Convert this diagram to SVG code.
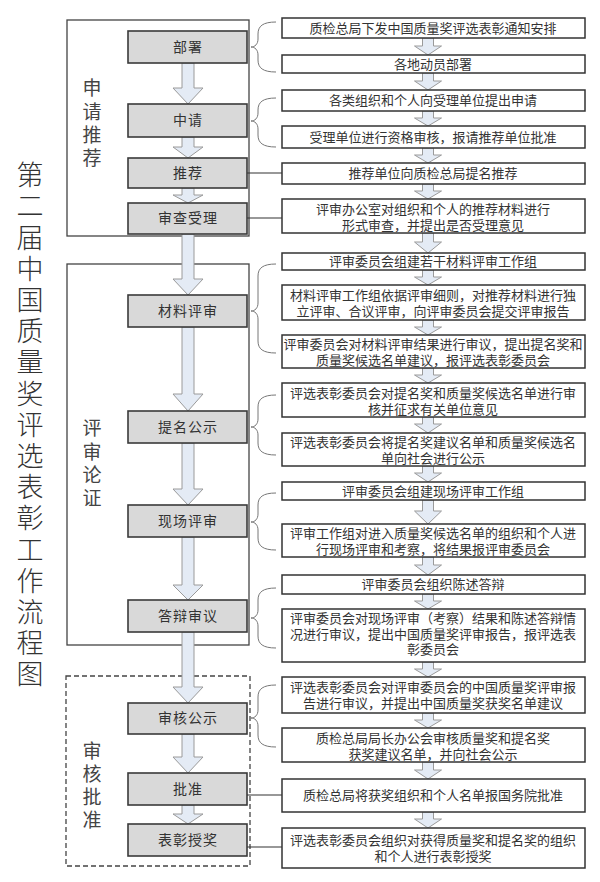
<svg xmlns="http://www.w3.org/2000/svg" width="600" height="882" viewBox="0 0 600 882">
<style>
.grp{fill:#fff;stroke:#444;stroke-width:1.3}
.dash{stroke-dasharray:5,3}
.lb{fill:#d9d9d9;stroke:#3a3a3a;stroke-width:1.6}
.rb{fill:#fff;stroke:#333;stroke-width:1.5}
.t{font-family:"Noto Sans CJK SC","Noto Sans",sans-serif;fill:#333;text-anchor:middle}
.v{font-family:"Noto Sans CJK SC","Noto Sans",sans-serif;writing-mode:vertical-rl;text-anchor:start}
.lt{font-size:14px;letter-spacing:1px}
.rt{font-size:13px}
.gl{font-size:19px;fill:#444}
.tt{font-size:27px;fill:#333;letter-spacing:4.2px;font-weight:300}
.arr{fill:#e4ebf5;stroke:#9a9a9a;stroke-width:1}
.br{fill:none;stroke:#777;stroke-width:1}
.ln{fill:none;stroke:#333;stroke-width:1.2}
</style>
<rect width="600" height="882" fill="#fff"/>
<g id="title">
<text class="v tt" x="30" y="161.5">第二届中国质量奖评选表彰工作流程图</text>
</g>
<g id="group-apply">
<rect class="grp" x="67" y="20" width="182" height="216"/>
<text class="v gl" x="92" y="78.5" style="letter-spacing:4.3px">申请推荐</text>
</g>
<g id="group-review">
<rect class="grp" x="67" y="264" width="182" height="381"/>
<text class="v gl" x="92" y="418.5" style="letter-spacing:4.3px">评审论证</text>
</g>
<g id="group-approve">
<rect class="grp dash" x="66" y="676" width="184" height="190"/>
<text class="v gl" x="92" y="741.5" style="letter-spacing:4px">审核批准</text>
</g>
<g id="connectors">
<polygon class="arr" points="182,63 194,63 194,88 203,88 188,104 173,88 182,88"/>
<polygon class="arr" points="182,137 194,137 194,147 203,147 188,158 173,147 182,147"/>
<polygon class="arr" points="182,188 194,188 194,195 203,195 188,203 173,195 182,195"/>
<polygon class="arr" points="182,234 194,234 194,279 203,279 188,295 173,279 182,279"/>
<polygon class="arr" points="182,327 194,327 194,394 203,394 188,411 173,394 182,394"/>
<polygon class="arr" points="182,443 194,443 194,489 203,489 188,505 173,489 182,489"/>
<polygon class="arr" points="182,537 194,537 194,585 203,585 188,600 173,585 182,585"/>
<polygon class="arr" points="182,632 194,632 194,687 203,687 188,703 173,687 182,687"/>
<polygon class="arr" points="182,734 194,734 194,757 203,757 188,773 173,757 182,757"/>
<polygon class="arr" points="182,805 194,805 194,814 203,814 188,824 173,814 182,814"/>
<polygon class="arr" points="422.5,38 433.5,38 433.5,46 441.5,46 428,55 414.5,46 422.5,46"/>
<polygon class="arr" points="422.5,73 433.5,73 433.5,81 441.5,81 428,90 414.5,81 422.5,81"/>
<polygon class="arr" points="422.5,111 433.5,111 433.5,118 441.5,118 428,126 414.5,118 422.5,118"/>
<polygon class="arr" points="422.5,148 433.5,148 433.5,155 441.5,155 428,163 414.5,155 422.5,155"/>
<polygon class="arr" points="422.5,184 433.5,184 433.5,191 441.5,191 428,199 414.5,191 422.5,191"/>
<polygon class="arr" points="422.5,233 433.5,233 433.5,242 441.5,242 428,253 414.5,242 422.5,242"/>
<polygon class="arr" points="422.5,270 433.5,270 433.5,277 441.5,277 428,285 414.5,277 422.5,277"/>
<polygon class="arr" points="422.5,320 433.5,320 433.5,327 441.5,327 428,335 414.5,327 422.5,327"/>
<polygon class="arr" points="422.5,368 433.5,368 433.5,375 441.5,375 428,383 414.5,375 422.5,375"/>
<polygon class="arr" points="422.5,417 433.5,417 433.5,424 441.5,424 428,433 414.5,424 422.5,424"/>
<polygon class="arr" points="422.5,466 433.5,466 433.5,473 441.5,473 428,482 414.5,473 422.5,473"/>
<polygon class="arr" points="422.5,500 433.5,500 433.5,511 441.5,511 428,524 414.5,511 422.5,511"/>
<polygon class="arr" points="422.5,557 433.5,557 433.5,565 441.5,565 428,575 414.5,565 422.5,565"/>
<polygon class="arr" points="422.5,594 433.5,594 433.5,601 441.5,601 428,609 414.5,601 422.5,601"/>
<polygon class="arr" points="422.5,662 433.5,662 433.5,669 441.5,669 428,677 414.5,669 422.5,669"/>
<polygon class="arr" points="422.5,713 433.5,713 433.5,720 441.5,720 428,728 414.5,720 422.5,720"/>
<polygon class="arr" points="422.5,762 433.5,762 433.5,770 441.5,770 428,779 414.5,770 422.5,770"/>
<polygon class="arr" points="422.5,812 433.5,812 433.5,819 441.5,819 428,828 414.5,819 422.5,819"/>
<path class="br" d="M276 22 C263 22 258 26 258 34 L258 39 C258 44 255 47 251 47 C255 47 258 50 258 55 L258 60 C258 68 263 72 276 72"/>
<path class="br" d="M276 98 C263 98 258 102 258 110 L258 113 C258 118 255 121 251 121 C255 121 258 124 258 129 L258 135 C258 143 263 147 276 147"/>
<path class="br" d="M276 264 C263 264 258 268 258 276 L258 303 C258 308 255 311 251 311 C255 311 258 314 258 319 L258 341 C258 349 263 353 276 353"/>
<path class="br" d="M276 395 C263 395 258 399 258 407 L258 419 C258 424 255 427 251 427 C255 427 258 430 258 435 L258 443 C258 451 263 455 276 455"/>
<path class="br" d="M276 493 C263 493 258 497 258 505 L258 514 C258 519 255 522 251 522 C255 522 258 525 258 530 L258 538 C258 546 263 550 276 550"/>
<path class="br" d="M276 588 C263 588 258 592 258 600 L258 610 C258 615 255 618 251 618 C255 618 258 621 258 626 L258 636 C258 644 263 648 276 648"/>
<path class="br" d="M276 685 C263 685 258 689 258 697 L258 710 C258 715 255 718 251 718 C255 718 258 721 258 726 L258 735 C258 743 263 747 276 747"/>
<line class="ln" x1="247" y1="173" x2="282" y2="173"/>
<line class="ln" x1="247" y1="218" x2="282" y2="218"/>
<line class="ln" x1="247" y1="795" x2="282" y2="795"/>
<line class="ln" x1="247" y1="847" x2="282" y2="847"/>
</g>
<g id="step-bushu"><rect class="lb" x="128" y="31" width="119" height="32"/><text class="t lt" x="188" y="52">部署</text></g>
<g id="step-shenqing"><rect class="lb" x="128" y="104" width="119" height="33"/><text class="t lt" x="188" y="125">中请</text></g>
<g id="step-tuijian"><rect class="lb" x="128" y="158" width="119" height="30"/><text class="t lt" x="188" y="178">推荐</text></g>
<g id="step-shencha"><rect class="lb" x="128" y="203" width="119" height="31"/><text class="t lt" x="188" y="223">审查受理</text></g>
<g id="step-cailiao"><rect class="lb" x="128" y="295" width="119" height="32"/><text class="t lt" x="188" y="316">材料评审</text></g>
<g id="step-timing"><rect class="lb" x="128" y="411" width="119" height="32"/><text class="t lt" x="188" y="432">提名公示</text></g>
<g id="step-xianchang"><rect class="lb" x="128" y="505" width="119" height="32"/><text class="t lt" x="188" y="526">现场评审</text></g>
<g id="step-dabian"><rect class="lb" x="128" y="600" width="119" height="32"/><text class="t lt" x="188" y="621">答辩审议</text></g>
<g id="step-shenhe"><rect class="lb" x="128" y="703" width="119" height="31"/><text class="t lt" x="188" y="723">审核公示</text></g>
<g id="step-pizhun"><rect class="lb" x="128" y="773" width="119" height="32"/><text class="t lt" x="188" y="794">批准</text></g>
<g id="step-biaozhang"><rect class="lb" x="128" y="824" width="119" height="32"/><text class="t lt" x="188" y="845">表彰授奖</text></g>
<g id="d1"><rect class="rb" x="282" y="18" width="303" height="20"/><text class="t rt" x="433" y="32.5">质检总局下发中国质量奖评选表彰通知安排</text></g>
<g id="d2"><rect class="rb" x="282" y="55" width="303" height="18"/><text class="t rt" x="433" y="68.5">各地动员部署</text></g>
<g id="d3"><rect class="rb" x="282" y="90" width="303" height="21"/><text class="t rt" x="433" y="105">各类组织和个人向受理单位提出申请</text></g>
<g id="d4"><rect class="rb" x="282" y="126" width="303" height="22"/><text class="t rt" x="433" y="141.5">受理单位进行资格审核，报请推荐单位批准</text></g>
<g id="d5"><rect class="rb" x="282" y="163" width="303" height="21"/><text class="t rt" x="433" y="178">推荐单位向质检总局提名推荐</text></g>
<g id="d6"><rect class="rb" x="282" y="199" width="303" height="34"/><text class="t rt"><tspan x="433" y="213.5">评审办公室对组织和个人的推荐材料进行</tspan><tspan x="433" y="229.5">形式审查，并提出是否受理意见</tspan></text></g>
<g id="d7"><rect class="rb" x="282" y="253" width="303" height="17"/><text class="t rt" x="433" y="266">评审委员会组建若干材料评审工作组</text></g>
<g id="d8"><rect class="rb" x="282" y="285" width="303" height="35"/><text class="t rt"><tspan x="433" y="299.5">材料评审工作组依据评审细则，对推荐材料进行独</tspan><tspan x="433" y="315.5">立评审、合议评审，向评审委员会提交评审报告</tspan></text></g>
<g id="d9"><rect class="rb" x="282" y="335" width="303" height="33"/><text class="t rt"><tspan x="433" y="349">评审委员会对材料评审结果进行审议，提出提名奖和</tspan><tspan x="433" y="365">质量奖候选名单建议，报评选表彰委员会</tspan></text></g>
<g id="d10"><rect class="rb" x="282" y="383" width="303" height="34"/><text class="t rt"><tspan x="433" y="397.5">评选表彰委员会对提名奖和质量奖候选名单进行审</tspan><tspan x="433" y="413.5">核并征求有关单位意见</tspan></text></g>
<g id="d11"><rect class="rb" x="282" y="433" width="303" height="33"/><text class="t rt"><tspan x="433" y="447">评选表彰委员会将提名奖建议名单和质量奖候选名</tspan><tspan x="433" y="463">单向社会进行公示</tspan></text></g>
<g id="d12"><rect class="rb" x="282" y="482" width="303" height="18"/><text class="t rt" x="433" y="495.5">评审委员会组建现场评审工作组</text></g>
<g id="d13"><rect class="rb" x="282" y="524" width="303" height="33"/><text class="t rt"><tspan x="433" y="538">评审工作组对进入质量奖候选名单的组织和个人进</tspan><tspan x="433" y="554">行现场评审和考察，将结果报评审委员会</tspan></text></g>
<g id="d14"><rect class="rb" x="282" y="575" width="303" height="19"/><text class="t rt" x="433" y="589">评审委员会组织陈述答辩</text></g>
<g id="d15"><rect class="rb" x="282" y="609" width="303" height="53"/><text class="t rt"><tspan x="433" y="623">评审委员会对现场评审（考察）结果和陈述答辩情</tspan><tspan x="433" y="638.5">况进行审议，提出中国质量奖评审报告，报评选表</tspan><tspan x="433" y="654">彰委员会</tspan></text></g>
<g id="d16"><rect class="rb" x="282" y="677" width="303" height="36"/><text class="t rt"><tspan x="433" y="692">评选表彰委员会对评审委员会的中国质量奖评审报</tspan><tspan x="433" y="708">告进行审议，并提出中国质量奖获奖名单建议</tspan></text></g>
<g id="d17"><rect class="rb" x="282" y="728" width="303" height="34"/><text class="t rt"><tspan x="433" y="742.5">质检总局局长办公会审核质量奖和提名奖</tspan><tspan x="433" y="758.5">获奖建议名单，并向社会公示</tspan></text></g>
<g id="d18"><rect class="rb" x="282" y="779" width="303" height="33"/><text class="t rt" x="433" y="800">质检总局将获奖组织和个人名单报国务院批准</text></g>
<g id="d19"><rect class="rb" x="282" y="828" width="303" height="40"/><text class="t rt"><tspan x="433" y="845">评选表彰委员会组织对获得质量奖和提名奖的组织</tspan><tspan x="433" y="861">和个人进行表彰授奖</tspan></text></g>
</svg>
